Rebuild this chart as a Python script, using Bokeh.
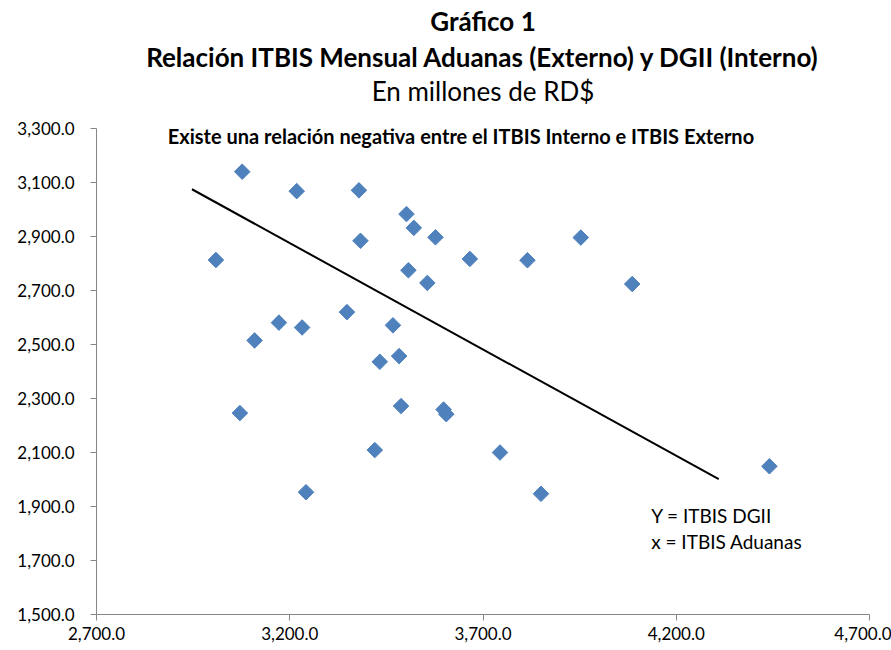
from bokeh.plotting import figure
from bokeh.models import Title, Label, FixedTicker, NumeralTickFormatter, Range1d
from bokeh.embed import file_html
from bokeh.resources import INLINE
import math

# ITBIS Aduanas (externo), millones RD$
itbis_aduanas = [3077, 3009, 3218, 3109, 3172, 3232, 3379, 3502, 3521, 3577,
                 3383, 3666, 3815, 3953, 4086, 3507, 3556, 3348, 3467, 3483,
                 3433, 3488, 3598, 3605, 3420, 3744, 3071, 3242, 3850, 4441]
# ITBIS DGII (interno), millones RD$
itbis_dgii = [3140, 2813, 3068, 2515, 2581, 2563, 3071, 2983, 2932, 2897,
              2884, 2817, 2812, 2896, 2724, 2775, 2728, 2620, 2571, 2457,
              2436, 2272, 2259, 2242, 2109, 2100, 2246, 1953, 1947, 2049]
# trend line end points
trend_x = [2947, 4310]
trend_y = [3075, 2001]

x_ticks = [2700, 3200, 3700, 4200, 4700]
y_ticks = [1500, 1700, 1900, 2100, 2300, 2500, 2700, 2900, 3100, 3300]

FONT = "Lato"

p = figure(width=891, height=648, output_backend="svg", toolbar_location=None,
           title=None, x_range=Range1d(2700, 4700), y_range=Range1d(1500, 3300),
           min_border_left=96, min_border_right=22, min_border_bottom=34, min_border_top=128)
p.outline_line_color = None
p.grid.visible = False

# spacer between the titles and the plot area
p.add_layout(Title(text=" ", text_font_size="1px", standoff=19), "above")
for txt, style, so in [("En millones de RD$", "normal", 0),
                       ("Relación ITBIS Mensual Aduanas (Externo) y DGII (Interno)", "bold", 0),
                       ("Gráfico 1", "bold", 4)]:
    t = Title(text=txt, align="center", text_font=FONT, text_font_size="26px",
              text_font_style=style, text_color="black", standoff=so)
    p.add_layout(t, "above")

for ax in (p.xaxis[0], p.yaxis[0]):
    ax.axis_line_color = "#868686"
    ax.major_tick_line_color = "#868686"
    ax.major_tick_out = 6
    ax.major_tick_in = 0
    ax.minor_tick_line_color = None
    ax.major_label_text_font = FONT
    ax.major_label_text_font_size = "17px"
    ax.major_label_text_color = "black"
    ax.formatter = NumeralTickFormatter(format="0,0.0")

p.xaxis[0].ticker = FixedTicker(ticks=x_ticks)
p.yaxis[0].ticker = FixedTicker(ticks=y_ticks)
p.xaxis[0].major_label_standoff = 6
p.yaxis[0].major_label_standoff = 16

p.line(trend_x, trend_y, line_color="black", line_width=2)
p.scatter(itbis_aduanas, itbis_dgii, marker="square", size=11, angle=math.pi / 4,
          fill_color="#4F81BD", line_color="#4F81BD")

p.add_layout(Label(x=3643, y=3272, text="Existe una relación negativa entre el ITBIS Interno e ITBIS Externo",
                   text_font=FONT, text_font_size="20px", text_font_style="bold",
                   text_align="center", text_baseline="alphabetic", text_color="black"))
p.add_layout(Label(x=4135, y=1866, text="Y = ITBIS DGII", text_font=FONT, text_font_size="19px",
                   text_align="left", text_baseline="middle", text_color="black"))
p.add_layout(Label(x=4135, y=1770, text="x = ITBIS Aduanas", text_font=FONT, text_font_size="19px",
                   text_align="left", text_baseline="middle", text_color="black"))

open("out.html", "w").write(file_html(p, INLINE))
